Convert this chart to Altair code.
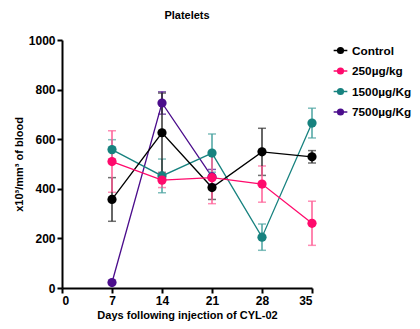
import altair as alt
import pandas as pd

days = [7, 14, 21, 28, 35]
series = ["Control", "250µg/kg", "1500µg/Kg", "7500µg/Kg"]
colors = ["#000000", "#ff0a6c", "#17827f", "#4b0d8c"]
err_colors = ["#333333", "#ff5c95", "#4aa3a0", "#4b0d8c"]
draw_rank = [2, 3, 1, 0]

control = [357, 626, 405, 549, 529]
control_err = [88, 160, 48, 95, 25]
d250 = [510, 435, 445, 419, 261]
d250_err = [124, 30, 105, 73, 89]
d1500 = [558, 452, 544, 205, 665]
d1500_err = [40, 68, 77, 53, 60]
d7500 = [22, 746, 448]
d7500_err = [0, 45, 30]

rows = []
for name, vals, errs in [(series[0], control, control_err), (series[1], d250, d250_err),
                         (series[2], d1500, d1500_err), (series[3], d7500, d7500_err)]:
    for i, (v, e) in enumerate(zip(vals, errs)):
        rows.append({"day": days[i], "group": name, "value": v, "lo": v - e, "hi": v + e,
                     "rank": draw_rank[series.index(name)]})
df = pd.DataFrame(rows).sort_values(["rank", "day"]).reset_index(drop=True)

FONT = "Liberation Sans"
YTITLE = "x10³/mm³ of blood"
xs = alt.X("day:Q", scale=alt.Scale(domain=[0, 35], nice=False),
           axis=alt.Axis(values=[0, 7, 14, 21, 28, 35], title="Days following injection of CYL-02",
                         titlePadding=3))
ys = alt.Y("value:Q", scale=alt.Scale(domain=[0, 1000], nice=False),
           axis=alt.Axis(values=[0, 200, 400, 600, 800, 1000], title=YTITLE, format="d",
                         titlePadding=4))
col_scale = alt.Scale(domain=series, range=colors)
err_scale = alt.Scale(domain=series, range=err_colors)

base = alt.Chart(df)

err = base.mark_errorbar(ticks=alt.MarkConfig(size=8), thickness=1.5).encode(
    x="day:Q",
    y=alt.Y("lo:Q", scale=alt.Scale(domain=[0, 1000], nice=False), title=YTITLE),
    y2="hi:Q",
    color=alt.Color("group:N", scale=err_scale, legend=None),
)

lines = base.mark_line(strokeWidth=1.3).encode(
    x=xs, y=ys,
    color=alt.Color("group:N", scale=col_scale, legend=None),
    order="day:Q",
)

legend_path = "M-1.2,0L1.2,0M0.5,0A0.5,0.5,0,1,1,-0.5,0A0.5,0.5,0,1,1,0.5,0Z"
leg = alt.Legend(title=None, orient="none", legendX=272, legendY=4,
                 symbolType=legend_path, symbolSize=130,
                 symbolStrokeWidth=1.5, rowPadding=6.5,
                 labelFont=FONT, labelFontSize=11.8, labelFontWeight="bold",
                 labelColor="black", labelOffset=5, labelLimit=200)
points = base.mark_point(filled=True, size=85, opacity=1, strokeWidth=0).encode(
    x="day:Q", y="value:Q",
    fill=alt.Fill("group:N", scale=col_scale, legend=leg),
    stroke=alt.Stroke("group:N", scale=col_scale, legend=leg),
    order=alt.Order("rank:Q"),
)

chart = alt.layer(lines, err, points).resolve_scale(
    color="independent", fill="independent", stroke="independent"
).properties(
    width=250, height=248,
    title=alt.Title("Platelets", font=FONT, fontSize=11, fontWeight="bold", anchor="middle",
                    offset=13, color="black"),
    autosize=alt.AutoSizeParams(type="none"),
    padding={"left": 54, "top": 32, "right": 100, "bottom": 33},
).configure_view(stroke=None).configure_axis(
    domainColor="black", domainWidth=2, tickColor="black", tickWidth=2, tickSize=5,
    grid=False, labelFont=FONT, labelFontSize=12, labelFontWeight="bold", labelColor="black",
    titleFont=FONT, titleFontSize=11, titleFontWeight="bold", titleColor="black",
)

chart.save("out.html", embed_options={"renderer": "svg", "actions": False})
